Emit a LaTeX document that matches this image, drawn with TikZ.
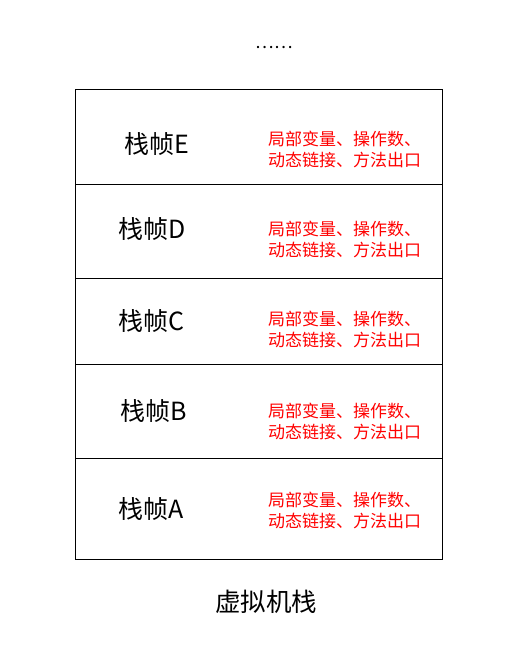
\documentclass[tikz,border=0pt]{standalone}
\usepackage{fontspec}
\setmainfont{Noto Sans CJK SC}
\usepackage{tikz}

\tikzset{frame/.style={draw,line width=0.9pt},
  framename/.style={anchor=west,font=\fontsize{25}{27}\selectfont,inner sep=0pt},
  framedata/.style={anchor=west,align=left,text=red,font=\fontsize{17}{21}\selectfont,inner sep=0pt}}

\begin{document}
\begin{tikzpicture}[x=1pt,y=-1pt]
    \useasboundingbox (0,0) rectangle (531,654);
    \node[inner sep=0pt,font=\fontsize{17.5}{19}\selectfont] (dots) at (274.5,48) {……};
    \draw[frame] (75,89) rectangle (442,559);
    \coordinate (d1l) at (75,184); \coordinate (d1r) at (442,184);
    \coordinate (d2l) at (75,278); \coordinate (d2r) at (442,278);
    \coordinate (d3l) at (75,364); \coordinate (d3r) at (442,364);
    \coordinate (d4l) at (75,458); \coordinate (d4r) at (442,458);
    \draw[frame] (d1l) -- (d1r) (d2l) -- (d2r) (d3l) -- (d3r) (d4l) -- (d4r);
    \node[framename] (fE) at (124,144) {栈帧E};
    \node[framename] (fD) at (118,229) {栈帧D};
    \node[framename] (fC) at (118,321) {栈帧C};
    \node[framename] (fB) at (120,411) {栈帧B};
    \node[framename] (fA) at (118,509) {栈帧A};
    \node[framedata] (vE) at (268,149) {局部变量、操作数、\\动态链接、方法出口};
    \node[framedata] (vD) at (268,239) {局部变量、操作数、\\动态链接、方法出口};
    \node[framedata] (vC) at (268,329) {局部变量、操作数、\\动态链接、方法出口};
    \node[framedata] (vB) at (268,421) {局部变量、操作数、\\动态链接、方法出口};
    \node[framedata] (vA) at (268,510) {局部变量、操作数、\\动态链接、方法出口};
    \node[inner sep=0pt,font=\fontsize{25.5}{27}\selectfont] (vms) at (266,602) {虚拟机栈};
\end{tikzpicture}
\end{document}
